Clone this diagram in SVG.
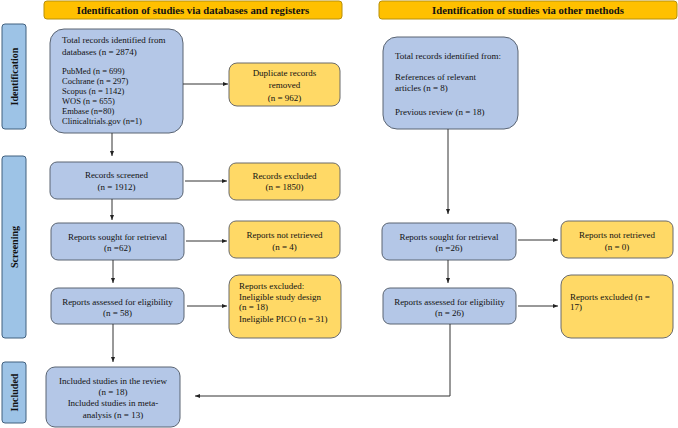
<svg xmlns="http://www.w3.org/2000/svg" width="678" height="428" viewBox="0 0 678 428" font-family="'Liberation Serif', 'Times New Roman', serif">
<defs>
<style>
.hdr{fill:#FFC000;stroke:#B8900A;stroke-width:1}
.side{fill:#9DC3E6;stroke:#41607F;stroke-width:1}
.blue{fill:#B4C7E7;stroke:#5A6472;stroke-width:1}
.yel{fill:#FFD966;stroke:#6B6B6B;stroke-width:1}
text{font-family:"Liberation Serif","Times New Roman",serif;font-size:9px;fill:#111}
.ht{font-weight:bold;font-size:10.7px;text-anchor:middle}
.st{font-weight:bold;font-size:10px;text-anchor:middle}
.c{text-anchor:middle}
.sm{font-size:8.5px}
.ln{fill:none;stroke:#333;stroke-width:1}
</style>
<marker id="ah" markerWidth="5" markerHeight="4" refX="5" refY="2" orient="auto" markerUnits="userSpaceOnUse">
<path d="M0,0 L5,2 L0,4 Z" fill="#222"/>
</marker>
</defs>
<rect width="678" height="428" fill="#fff"/>
<g id="header-left"><rect class="hdr" x="44" y="1" width="298" height="18" rx="3"/><text class="ht" x="193" y="13.8">Identification of studies via databases and registers</text></g>
<g id="header-right"><rect class="hdr" x="379" y="1" width="298" height="18" rx="3"/><text class="ht" x="528" y="13.8">Identification of studies via other methods</text></g>
<g id="side-identification"><rect class="side" x="2" y="24" width="24" height="105" rx="3"/><text class="st" transform="translate(17.5,76.5) rotate(-90)">Identification</text></g>
<g id="side-screening"><rect class="side" x="2" y="156" width="24" height="182" rx="3"/><text class="st" transform="translate(17.5,247) rotate(-90)">Screening</text></g>
<g id="side-included"><rect class="side" x="2" y="362" width="24" height="61" rx="3"/><text class="st" transform="translate(17.5,392.5) rotate(-90)">Included</text></g>

<g id="n-total-db"><rect class="blue" x="50" y="29" width="133" height="104" rx="14"/>
<text x="62" y="43">Total records identified from</text>
<text x="62" y="55">databases (n = 2874)</text>
<text class="sm" x="62" y="74">PubMed (n = 699)</text>
<text class="sm" x="62" y="84">Cochrane (n = 297)</text>
<text class="sm" x="62" y="94">Scopus (n = 1142)</text>
<text class="sm" x="62" y="104">WOS (n = 655)</text>
<text class="sm" x="62" y="114">Embase (n=80)</text>
<text class="sm" x="62" y="124">Clinicaltrials.gov (n=1)</text></g>
<g id="n-duplicates"><rect class="yel" x="229" y="63" width="111" height="43" rx="8"/>
<text class="c" x="284.5" y="76">Duplicate records</text><text class="c" x="284.5" y="88">removed</text><text class="c" x="284.5" y="101">(n = 962)</text></g>
<g id="n-screened"><rect class="blue" x="50" y="162" width="133" height="37" rx="7"/>
<text class="c" x="116.5" y="178">Records screened</text><text class="c" x="116.5" y="190">(n =  1912)</text></g>
<g id="n-rec-excluded"><rect class="yel" x="229" y="163" width="111" height="37" rx="7"/>
<text class="c" x="284.5" y="179">Records excluded</text><text class="c" x="284.5" y="190">(n = 1850)</text></g>
<g id="n-sought-left"><rect class="blue" x="51" y="223" width="133" height="37" rx="7"/>
<text class="c" x="117.5" y="240">Reports sought for retrieval</text><text class="c" x="117.5" y="251">(n =62)</text></g>
<g id="n-notret-left"><rect class="yel" x="229" y="221" width="111" height="37" rx="7"/>
<text class="c" x="284.5" y="238">Reports not retrieved</text><text class="c" x="284.5" y="250">(n = 4)</text></g>
<g id="n-assessed-left"><rect class="blue" x="51" y="288" width="133" height="36" rx="7"/>
<text class="c" x="117.5" y="305">Reports assessed for eligibility</text><text class="c" x="117.5" y="316">(n = 58)</text></g>
<g id="n-excluded-left"><rect class="yel" x="229" y="275" width="112" height="63" rx="10"/>
<text x="239" y="289">Reports excluded:</text>
<text x="239" y="300">Ineligible study design</text>
<text x="239" y="310">(n = 18)</text>
<text x="239" y="322">Ineligible PICO (n = 31)</text></g>
<g id="n-included"><rect class="blue" x="46" y="367" width="134" height="60" rx="9"/>
<text class="c" x="113" y="384">Included studies in the review</text>
<text class="c" x="113" y="395">(n = 18)</text>
<text class="c" x="113" y="406">Included studies in meta-</text>
<text class="c" x="113" y="418">analysis (n = 13)</text></g>

<g id="n-total-other"><rect class="blue" x="383" y="37" width="135" height="92" rx="14"/>
<text x="395" y="59">Total records identified from:</text>
<text x="395" y="80">References of relevant</text>
<text x="395" y="91">articles (n = 8)</text>
<text x="395" y="115">Previous review (n = 18)</text></g>
<g id="n-sought-right"><rect class="blue" x="382" y="223" width="134" height="37" rx="7"/>
<text class="c" x="449" y="240">Reports sought for retrieval</text><text class="c" x="449" y="251">(n =26)</text></g>
<g id="n-notret-right"><rect class="yel" x="561" y="221" width="112" height="37" rx="7"/>
<text class="c" x="617" y="238">Reports not retrieved</text><text class="c" x="617" y="250">(n = 0)</text></g>
<g id="n-assessed-right"><rect class="blue" x="383" y="288" width="133" height="36" rx="7"/>
<text class="c" x="449.5" y="305">Reports assessed for eligibility</text><text class="c" x="449.5" y="316">(n = 26)</text></g>
<g id="n-excluded-right"><rect class="yel" x="561" y="275" width="112" height="63" rx="10"/>
<text x="570" y="300">Reports excluded (n =</text><text x="570" y="310">17)</text></g>

<g id="connectors">
<line class="ln" x1="183" y1="84" x2="228" y2="84" marker-end="url(#ah)"/>
<line class="ln" x1="112" y1="133" x2="112" y2="156" marker-end="url(#ah)"/>
<line class="ln" x1="185" y1="181" x2="227" y2="181" marker-end="url(#ah)"/>
<line class="ln" x1="112" y1="199" x2="112" y2="220" marker-end="url(#ah)"/>
<line class="ln" x1="186" y1="241" x2="227" y2="241" marker-end="url(#ah)"/>
<line class="ln" x1="113" y1="260" x2="113" y2="283" marker-end="url(#ah)"/>
<line class="ln" x1="187" y1="306" x2="227" y2="306" marker-end="url(#ah)"/>
<line class="ln" x1="113" y1="324" x2="113" y2="362" marker-end="url(#ah)"/>
<line class="ln" x1="448" y1="129" x2="448" y2="214" marker-end="url(#ah)"/>
<line class="ln" x1="518" y1="240" x2="558" y2="240" marker-end="url(#ah)"/>
<line class="ln" x1="448" y1="260" x2="448" y2="283" marker-end="url(#ah)"/>
<line class="ln" x1="518" y1="306" x2="558" y2="306" marker-end="url(#ah)"/>
<polyline class="ln" points="450,324 450,396 195,396" marker-end="url(#ah)"/>
</g>
</svg>
